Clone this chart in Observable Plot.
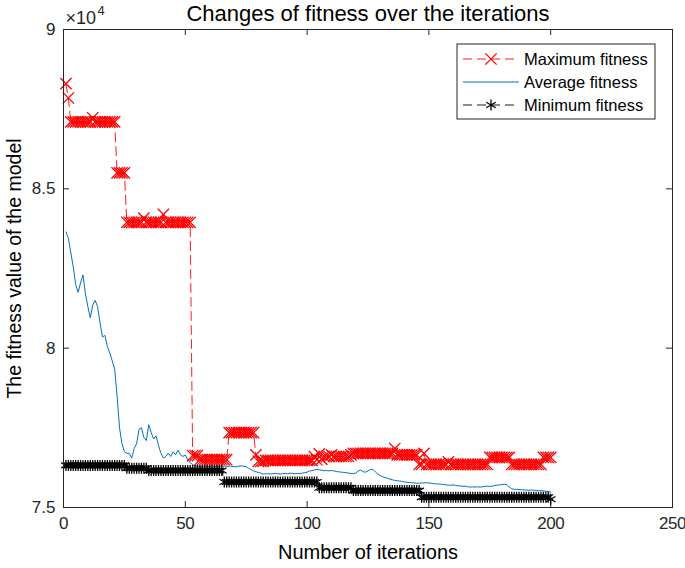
<!DOCTYPE html>
<html><head><meta charset="utf-8">
<script src="https://cdn.jsdelivr.net/npm/d3@7"></script>
<script src="https://cdn.jsdelivr.net/npm/@observablehq/plot@0.6"></script>
<style>body{margin:0;background:#fff;} #chart{width:685px;height:568px;}</style>
</head><body><div id="chart"></div>
<script>
const titleText = "Changes of fitness over the iterations";
const xLabel = "Number of iterations";
const yLabel = "The fitness value of the model";
const seriesNames = ["Maximum fitness", "Average fitness", "Minimum fitness"];
const xTicks = [0, 50, 100, 150, 200, 250];
const yTicks = [75000, 80000, 85000, 90000];

const iterations = d3.range(1, 201);

const maxFitness = [
  88300, 87850, 87100, 87100, 87100, 87100, 87100, 87100, 87100, 87100,
  87100, 87230, 87100, 87100, 87100, 87100, 87100, 87100, 87100, 87100,
  87100, 85500, 85500, 85500, 85500, 83950, 83950, 83950, 83950, 83950,
  83950, 83950, 84080, 83950, 83950, 83950, 83950, 83950, 83950, 83950,
  84200, 83950, 83950, 83950, 83950, 83950, 83950, 83950, 83950, 83950,
  83950, 83950, 76630, 76630, 76630, 76500, 76500, 76500, 76500, 76500,
  76500, 76500, 76500, 76500, 76500, 76500, 76500, 77350, 77350, 77350,
  77350, 77350, 77350, 77350, 77350, 77350, 77350, 77350, 76650, 76450,
  76450, 76450, 76480, 76480, 76480, 76480, 76480, 76480, 76480, 76480,
  76480, 76480, 76480, 76480, 76480, 76480, 76480, 76480, 76480, 76480,
  76480, 76480, 76600, 76500, 76680, 76520, 76600, 76600, 76600, 76650,
  76600, 76600, 76600, 76600, 76600, 76600, 76600, 76650, 76700, 76700,
  76700, 76700, 76700, 76700, 76700, 76700, 76700, 76700, 76700, 76700,
  76700, 76700, 76700, 76700, 76700, 76850, 76650, 76650, 76650, 76650,
  76650, 76650, 76650, 76650, 76650, 76350, 76350, 76700, 76350, 76350,
  76350, 76350, 76350, 76350, 76350, 76350, 76350, 76430, 76350, 76350,
  76350, 76350, 76350, 76350, 76350, 76350, 76350, 76350, 76350, 76350,
  76350, 76350, 76350, 76350, 76570, 76570, 76570, 76570, 76570, 76570,
  76570, 76570, 76570, 76350, 76350, 76350, 76350, 76350, 76350, 76350,
  76350, 76350, 76350, 76350, 76350, 76350, 76570, 76570, 76570, 76570
];

const avgFitness = [
  83650, 83450, 83000, 82550, 82000, 81750, 82050, 82300, 81700, 81300,
  80950, 81350, 81500, 81300, 80800, 80350, 80400, 80050, 79850, 79600,
  79350, 78500, 77500, 77000, 76750, 76700, 76700, 76550, 76850, 77000,
  77450, 77500, 77200, 77100, 77600, 77350, 77150, 77250, 76950, 76700,
  76550, 76600, 76700, 76600, 76750, 76650, 76800, 76650, 76600, 76650,
  76500, 76400, 76350, 76300, 76300, 76280, 76290, 76300, 76280, 76290,
  76300, 76290, 76280, 76290, 76300, 76300, 76290, 76300, 76290, 76280,
  76280, 76300, 76310, 76290, 76280, 76230, 76190, 76150, 76120, 76100,
  76080, 76050, 76060, 76060, 76050, 76060, 76070, 76060, 76050, 76060,
  76070, 76060, 76080, 76070, 76060, 76070, 76060, 76080, 76090, 76110,
  76140, 76160, 76180, 76200, 76180, 76170, 76150, 76160, 76150, 76160,
  76150, 76130, 76120, 76110, 76100, 76090, 76080, 76070, 76060, 76080,
  76150, 76180, 76120, 76110, 76150, 76190, 76200, 76120, 76050, 76000,
  75970, 75940, 75920, 75890, 75870, 75850, 75840, 75830, 75820, 75800,
  75790, 75780, 75780, 75770, 75760, 75760, 75770, 75770, 75780, 75770,
  75760, 75750, 75740, 75740, 75730, 75720, 75710, 75700, 75700, 75710,
  75690, 75680, 75680, 75660, 75670, 75650, 75640, 75650, 75640, 75650,
  75640, 75650, 75660, 75670, 75660, 75670, 75690, 75700, 75710, 75720,
  75730, 75720, 75640, 75590, 75570, 75570, 75560, 75560, 75550, 75550,
  75540, 75550, 75540, 75540, 75530, 75530, 75520, 75510, 75500, 75480
];

const minFitness = [
  76320, 76320, 76320, 76320, 76320, 76320, 76320, 76320, 76320, 76320,
  76320, 76320, 76320, 76320, 76320, 76320, 76320, 76320, 76320, 76320,
  76320, 76320, 76320, 76320, 76320, 76230, 76230, 76230, 76230, 76230,
  76230, 76230, 76230, 76230, 76160, 76160, 76160, 76160, 76160, 76160,
  76160, 76160, 76160, 76160, 76160, 76160, 76160, 76160, 76160, 76160,
  76160, 76160, 76160, 76160, 76160, 76160, 76160, 76160, 76160, 76160,
  76160, 76160, 76160, 76160, 76160, 75800, 75800, 75800, 75800, 75800,
  75800, 75800, 75800, 75800, 75800, 75800, 75800, 75800, 75800, 75800,
  75800, 75800, 75800, 75800, 75800, 75800, 75800, 75800, 75800, 75800,
  75800, 75800, 75800, 75800, 75800, 75800, 75800, 75800, 75800, 75800,
  75800, 75800, 75800, 75800, 75620, 75620, 75620, 75620, 75620, 75620,
  75620, 75620, 75620, 75620, 75620, 75620, 75620, 75620, 75530, 75530,
  75530, 75530, 75530, 75530, 75530, 75530, 75530, 75530, 75530, 75530,
  75530, 75530, 75530, 75530, 75530, 75530, 75530, 75530, 75530, 75530,
  75530, 75530, 75530, 75530, 75530, 75530, 75320, 75320, 75320, 75320,
  75320, 75320, 75320, 75320, 75320, 75320, 75320, 75320, 75320, 75320,
  75320, 75320, 75320, 75320, 75320, 75320, 75320, 75320, 75320, 75320,
  75320, 75320, 75320, 75320, 75320, 75320, 75320, 75320, 75320, 75320,
  75320, 75320, 75320, 75320, 75320, 75320, 75320, 75320, 75320, 75320,
  75320, 75320, 75320, 75320, 75320, 75320, 75320, 75320, 75320, 75260
];

const colors = {max: "#ff0000", avg: "#0072bd", min: "#000000"};
const axisColor = "#262626";
const W = 685, H = 568, mL = 63, mR = 13, mT = 29, mB = 61;
const innerW = W - mL - mR, innerH = H - mT - mB;
const tickLen = 6;
const markR = 5.2;

const data = iterations.map((it, i) => ({it, max: maxFitness[i], avg: avgFitness[i], min: minFitness[i]}));

const chart = Plot.plot({
  width: W, height: H,
  marginLeft: mL, marginRight: mR, marginTop: mT, marginBottom: mB,
  style: {fontFamily: "'Liberation Sans', Arial, Helvetica, sans-serif", fontSize: "17px", color: axisColor, background: "#fff", overflow: "visible"},
  x: {domain: [0, 250], label: null},
  y: {domain: [75000, 90000], label: null},
  marks: [
    Plot.axisX(xTicks, {tickSize: 0, tickPadding: 9, fontSize: 17, tickFormat: d => d, fill: axisColor}),
    Plot.axisY(yTicks, {tickSize: 0, tickPadding: 8, fontSize: 17, tickFormat: d => d / 1e4, fill: axisColor}),
    Plot.ruleX(xTicks, {x: d => d, insetTop: innerH - tickLen, stroke: axisColor}),
    Plot.ruleX(xTicks, {x: d => d, insetBottom: innerH - tickLen, stroke: axisColor}),
    Plot.ruleY(yTicks, {y: d => d, insetRight: innerW - tickLen, stroke: axisColor}),
    Plot.ruleY(yTicks, {y: d => d, insetLeft: innerW - tickLen, stroke: axisColor}),
    // maximum
    Plot.line(data, {x: "it", y: "max", stroke: colors.max, strokeWidth: 0.9, strokeDasharray: "9,5"}),
    Plot.dot(data, {x: "it", y: "max", symbol: "times", r: markR, stroke: colors.max, strokeWidth: 1.3}),
    // average
    Plot.line(data, {x: "it", y: "avg", stroke: colors.avg, strokeWidth: 1}),
    // minimum
    Plot.line(data, {x: "it", y: "min", stroke: colors.min, strokeWidth: 0.9, strokeDasharray: "9,5"}),
    Plot.dot(data, {x: "it", y: "min", symbol: "asterisk", r: markR, stroke: colors.min, strokeWidth: 1.3}),
    Plot.frame({stroke: axisColor, strokeWidth: 1}),
    // texts
    Plot.text([titleText], {frameAnchor: "top", lineAnchor: "middle", dy: -16, fontSize: 22, fill: "#000"}),
    Plot.text([xLabel], {frameAnchor: "bottom", lineAnchor: "middle", dy: 45, fontSize: 20, fill: "#000"}),
    Plot.text([yLabel], {frameAnchor: "left", textAnchor: "middle", lineAnchor: "middle", dx: -49, rotate: -90, fontSize: 19.5, fill: "#000"}),
    Plot.text(["×10"], {frameAnchor: "top-left", textAnchor: "start", lineAnchor: "middle", dx: 2, dy: -11, fontSize: 18, fill: axisColor}),
    Plot.text(["4"], {frameAnchor: "top-left", textAnchor: "start", lineAnchor: "middle", dx: 34, dy: -19, fontSize: 13, fill: axisColor})
  ]
});

// legend (pixel layout)
const svg = d3.select(chart);
const lg = svg.append("g").attr("font-family", "'Liberation Sans', Arial, sans-serif").attr("font-size", 16.5).attr("text-anchor", "start");
const lx = 457, ly = 44, lw = 198, lh = 75;
lg.append("rect").attr("x", lx).attr("y", ly).attr("width", lw).attr("height", lh)
  .attr("fill", "#fff").attr("stroke", axisColor).attr("stroke-width", 1);
const entries = [
  {name: seriesNames[0], color: colors.max, dash: "9,5", symbol: d3.symbolTimes},
  {name: seriesNames[1], color: colors.avg, dash: null, symbol: null},
  {name: seriesNames[2], color: colors.min, dash: "9,5", symbol: d3.symbolAsterisk}
];
entries.forEach((e, i) => {
  const cy = 59 + i * 23;
  const ln = lg.append("line").attr("x1", 463).attr("x2", 519).attr("y1", cy).attr("y2", cy)
    .attr("stroke", e.color).attr("stroke-width", e.dash ? 0.9 : 1);
  if (e.dash) ln.attr("stroke-dasharray", e.dash);
  if (e.symbol) {
    lg.append("path").attr("d", d3.symbol(e.symbol, Math.PI * markR * markR)())
      .attr("transform", `translate(491,${cy})`).attr("fill", "none")
      .attr("stroke", e.color).attr("stroke-width", 1.3);
  }
  lg.append("text").attr("x", 524).attr("y", cy).attr("dy", "0.35em").attr("text-anchor", "start").attr("fill", "#000").text(e.name);
});

// keep the right-most tick label inside the page
svg.selectAll("g[aria-label='x-axis tick label'] text").attr("letter-spacing", "-0.5px");

document.getElementById("chart").appendChild(chart);
</script>
</body></html>
